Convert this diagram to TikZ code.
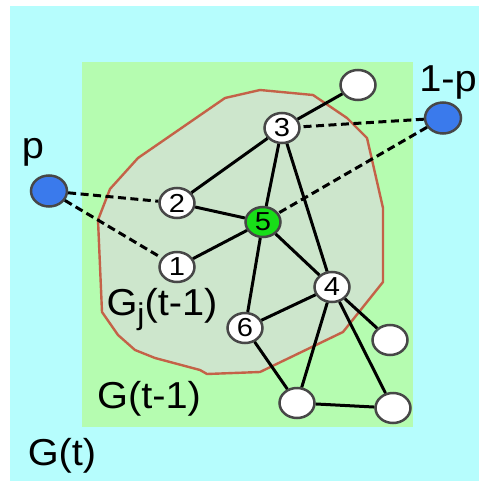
\documentclass[tikz,border=0pt]{standalone}
\usepackage{fontspec}
\setmainfont{Liberation Sans}
\usepackage{graphicx}
\usepackage{tikz}
\usetikzlibrary{shapes.geometric}
\definecolor{bgcyan}{RGB}{182,253,253}
\definecolor{bggreen}{RGB}{181,252,176}
\definecolor{subfill}{RGB}{205,230,204}
\definecolor{subline}{RGB}{196,98,72}
\definecolor{seedblue}{RGB}{58,122,236}
\definecolor{hubgreen}{RGB}{24,222,24}
\newcommand{\wide}[1]{\scalebox{1.06}[1]{#1}}
\newcommand{\num}[1]{\scalebox{1.12}[1]{#1}}
\tikzstyle{vertex}=[ellipse, draw=black!72, line width=2.5pt, fill=white,
                    minimum width=35pt, minimum height=30pt, inner sep=0pt,
                    font=\fontsize{26}{26}\selectfont]
\tikzstyle{hub}   =[vertex, fill=hubgreen]
\tikzstyle{seed}  =[vertex, fill=seedblue, minimum width=36pt, minimum height=31pt]
\tikzstyle{edge}  =[line width=3pt, black]
\tikzstyle{link}  =[edge, dash pattern=on 8pt off 4.5pt]
\tikzstyle{glabel}=[anchor=base, inner sep=0pt, font=\fontsize{37.5}{37.5}\selectfont]

\begin{document}
\begin{tikzpicture}[x=1pt, y=-1pt]

  % ── regions ────────────────────────────────────────────────────────────────
  \useasboundingbox (0,0) rectangle (479,481);
  \fill[white]   (0,0)   rectangle (479,481);
  \fill[bgcyan]  (10,6)  rectangle (479,481);
  \fill[bggreen] (82,62) rectangle (413,427);
  \draw[subline, line width=2.4pt, fill=subfill]
    (98,220) -- (110,189) -- (138,158) -- (225,98) -- (260,90) -- (313,95)
    -- (347,118) -- (367,138) -- (383,208) -- (383,282) -- (343,332)
    -- (260,372) -- (207,374) -- (200,370) -- (155,358) -- (135,350)
    -- (118,335) -- (102,312) -- cycle;

  % ── labels ─────────────────────────────────────────────────────────────────
  \node[glabel] (lsub)  at (162,315)
    {\wide{G\raisebox{-9pt}{\fontsize{30}{30}\selectfont j}(t-1)}};
  \node[glabel] (lold)  at (149,408) {\wide{G(t-1)}};
  \node[glabel] (lnew)  at (62,465)  {\wide{G(t)}};
  \node[glabel] (lp)    at (33,158)  {\wide{p}};
  \node[glabel] (lq)    at (448,92)  {\wide{1-p}};

  % ── nodes ──────────────────────────────────────────────────────────────────
  \node[seed]   (pl)  at (49,191)  {};
  \node[seed]   (pr)  at (443,118) {};
  \node[vertex] (v1)  at (177,267) {\num{1}};
  \node[vertex] (v2)  at (177,203) {\num{2}};
  \node[vertex] (v3)  at (282,128) {\num{3}};
  \node[vertex] (v4)  at (332,287) {\num{4}};
  \node[hub]    (v5)  at (263,222) {\num{5}};
  \node[vertex] (v6)  at (245,328) {\num{6}};
  \node[vertex] (vt)  at (358,85)  {};
  \node[vertex] (vr)  at (390,340) {};
  \node[vertex] (vbl) at (297,403) {};
  \node[vertex] (vbr) at (393,408) {};

  % ── edges ──────────────────────────────────────────────────────────────────
  \draw[edge] (v3) -- (vt);
  \draw[edge] (v3) -- (v2);
  \draw[edge] (v3) -- (v5);
  \draw[edge] (v3) -- (v4);
  \draw[edge] (v2) -- (v5);
  \draw[edge] (v1) -- (v5);
  \draw[edge] (v5) -- (v4);
  \draw[edge] (v5) -- (v6);
  \draw[edge] (v6) -- (v4);
  \draw[edge] (v4) -- (vr);
  \draw[edge] (v4) -- (vbl);
  \draw[edge] (v4) -- (vbr);
  \draw[edge] (v6) -- (vbl);
  \draw[edge] (vbl) -- (vbr);

  % ── new links (dashed) ─────────────────────────────────────────────────────
  \draw[link] (pl) -- (v2);
  \draw[link] (pl) -- (v1);
  \draw[link] (pr) -- (v3);
  \draw[link] (pr) -- (v5);

\end{tikzpicture}
\end{document}
